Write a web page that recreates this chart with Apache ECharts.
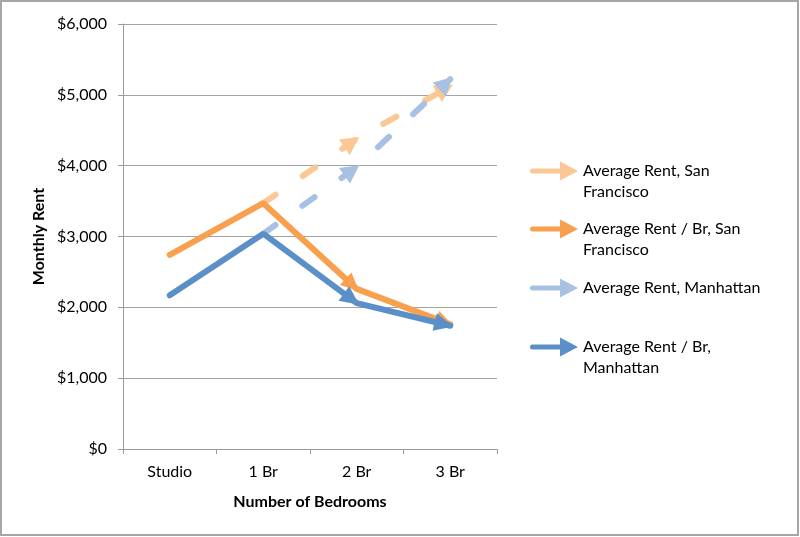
<!DOCTYPE html>
<html>
<head>
<meta charset="utf-8">
<script src="https://cdn.jsdelivr.net/npm/echarts@6/dist/echarts.min.js"></script>
<style>
html,body{margin:0;padding:0;background:#fff;}
#chart{width:800px;height:537px;}
</style>
</head>
<body>
<div id="chart"></div>
<script>
// ---- data ----
const categories = ['Studio', '1 Br', '2 Br', '3 Br'];
const sfAvgRent   = [null, 3470, 4380, 5120];   // Average Rent, San Francisco
const sfRentPerBr = [2740, 3470, 2260, 1760];   // Average Rent / Br, San Francisco
const nyAvgRent   = [null, 3040, 3980, 5220];   // Average Rent, Manhattan
const nyRentPerBr = [2170, 3040, 2060, 1740];   // Average Rent / Br, Manhattan
const yMin = 0, yMax = 6000, yStep = 1000;

const seriesNames = [
  'Average Rent, San Francisco',
  'Average Rent / Br, San Francisco',
  'Average Rent, Manhattan',
  'Average Rent / Br, Manhattan'
];
// legend wrapping (a leading empty line keeps the first text line level with the icon)
const legendText = {
  'Average Rent, San Francisco': '\nAverage Rent, San\nFrancisco',
  'Average Rent / Br, San Francisco': '\nAverage Rent / Br, San\nFrancisco',
  'Average Rent, Manhattan': 'Average Rent, Manhattan',
  'Average Rent / Br, Manhattan': '\nAverage Rent / Br,\nManhattan'
};

const FONT = 'Lato';
const chart = echarts.init(document.getElementById('chart'), null, {renderer: 'canvas'});

const colors = ['#FAC795', '#F8A04E', '#A7C1E2', '#5B8FC8'];
const valuesList = [sfAvgRent, sfRentPerBr, nyAvgRent, nyRentPerBr];
const dashed = [true, false, true, false];
const zs = [2, 4, 3, 5];

const iconPath = 'path://M2.5,7 L31,7 L31,12 L2.5,12 A2.5,2.5 0 0 1 2.5,7 Z M30,0 L48,9.5 L30,19 Z';
const LH = 21;
function legendFor(name, iconCenter) {
  const multi = legendText[name].indexOf('\n') >= 0;
  return {
    data: [name],
    left: 530,
    top: multi ? iconCenter - 31.5 : iconCenter - 10.5,
    orient: 'vertical',
    padding: 0,
    icon: iconPath,
    itemWidth: 48,
    itemHeight: 19,
    selectedMode: false,
    itemStyle: {borderWidth: 0},
    formatter: n => legendText[n],
    textStyle: {fontFamily: FONT, fontSize: 16, color: '#000', lineHeight: LH}
  };
}

function baseSeries(i) {
  return {
    name: seriesNames[i],
    type: 'line',
    z: zs[i],
    color: colors[i],
    showSymbol: true,
    connectNulls: false,
    silent: true,
    emphasis: {disabled: true},
    itemStyle: {color: colors[i], borderWidth: 0},
    lineStyle: dashed[i]
      ? {color: colors[i], width: 6, type: [15, 33], cap: 'round'}
      : {color: colors[i], width: 6, type: 'solid', cap: 'round'},
    data: valuesList[i].map(v => v == null ? '-' : {value: v, symbol: 'none'})
  };
}

const option = {
  animation: false,
  backgroundColor: '#fff',
  textStyle: {fontFamily: FONT},
  grid: {left: 123, right: 303, top: 24, bottom: 88, containLabel: false},
  xAxis: {
    type: 'category',
    data: categories,
    boundaryGap: true,
    name: 'Number of Bedrooms',
    nameLocation: 'middle',
    nameGap: 45,
    nameTextStyle: {fontFamily: FONT, fontSize: 16, fontWeight: 'bold', color: '#000'},
    axisLine: {show: true, lineStyle: {color: '#9a9a9a', width: 1}},
    axisTick: {show: true, length: 5, alignWithLabel: false, lineStyle: {color: '#9a9a9a'}},
    axisLabel: {fontFamily: FONT, fontSize: 16, color: '#000', margin: 15},
    splitLine: {show: false}
  },
  yAxis: {
    type: 'value',
    min: yMin, max: yMax, interval: yStep,
    name: 'Monthly Rent',
    nameLocation: 'middle',
    nameGap: 76,
    nameTextStyle: {fontFamily: FONT, fontSize: 16, fontWeight: 'bold', color: '#000'},
    axisLine: {show: true, lineStyle: {color: '#9a9a9a', width: 1}},
    axisTick: {show: true, length: 5, lineStyle: {color: '#9a9a9a'}},
    axisLabel: {
      fontFamily: FONT, fontSize: 16, color: '#000', margin: 16,
      formatter: v => '$' + v.toLocaleString('en-US')
    },
    splitLine: {show: true, lineStyle: {color: '#a3a3a3', width: 1}}
  },
  legend: [
    legendFor(seriesNames[0], 171),
    legendFor(seriesNames[1], 229),
    legendFor(seriesNames[2], 288),
    legendFor(seriesNames[3], 347)
  ],
  graphic: [{
    type: 'rect', z: 100, silent: true,
    shape: {x: 1, y: 1, width: 797, height: 534},
    style: {fill: 'none', stroke: '#a6a6a6', lineWidth: 2}
  }],
  series: [0, 1, 2, 3].map(baseSeries)
};
chart.setOption(option);

// add arrowheads at the end of each segment from 2 Br onward, oriented along the line
const arrowSizes = [[19, 18], [17, 18], [19, 18], [18, 19]];
function arrowData(si) {
  const values = valuesList[si];
  const size = arrowSizes[si];
  return values.map((v, i) => {
    if (v == null) return '-';
    const item = {value: v, symbol: 'none'};
    if (i >= 2 && values[i - 1] != null) {
      const p0 = chart.convertToPixel({seriesIndex: si}, [i - 1, values[i - 1]]);
      const p1 = chart.convertToPixel({seriesIndex: si}, [i, v]);
      const dx = p1[0] - p0[0], dy = p1[1] - p0[1];
      const len = Math.hypot(dx, dy);
      const ux = dx / len, uy = dy / len;
      const shift = 3 - size[1] / 2;
      item.symbol = 'triangle';
      item.symbolSize = size;
      item.symbolRotate = Math.atan2(-dx, -dy) * 180 / Math.PI;
      item.symbolOffset = [ux * shift, uy * shift];
    }
    return item;
  });
}
chart.setOption({
  series: [0, 1, 2, 3].map(si => ({data: arrowData(si)}))
});
</script>
</body>
</html>
